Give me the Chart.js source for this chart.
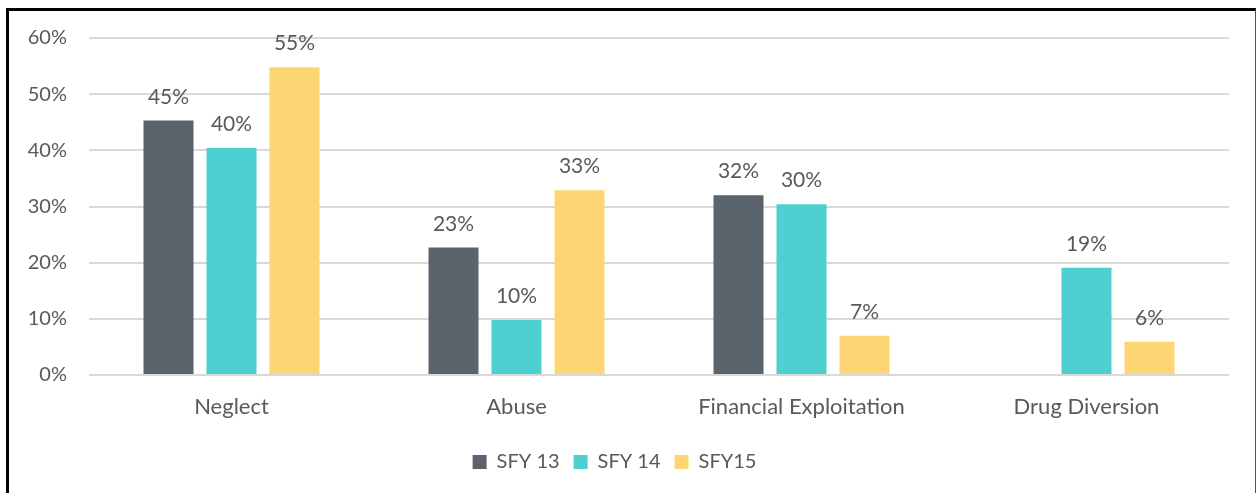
<!DOCTYPE html>
<html>
<head>
<meta charset="utf-8">
<script src="https://cdn.jsdelivr.net/npm/chart.js@4"></script>
<style>
  html, body { margin: 0; padding: 0; background: #fff; }
  #wrap { position: relative; width: 1258px; height: 493px; }
  #frame {
    position: absolute; left: 6px; top: 8px; width: 1246px; height: 490px;
    border-left: 3px solid #000; border-top: 3px solid #000; border-right: 1px solid #555;
    pointer-events: none;
  }
  canvas { position: absolute; left: 0; top: 0; }
</style>
</head>
<body>
<div id="wrap">
  <canvas id="grafico" width="1258" height="493"></canvas>
  <div id="frame"></div>
</div>
<script>
const categorias = ['Neglect', 'Abuse', 'Financial Exploitation', 'Drug Diversion'];
const sfy13 = [45.3, 22.7, 32.0, null];
const sfy14 = [40.4, 9.8, 30.4, 19.1];
const sfy15 = [54.8, 32.9, 7.0, 5.9];
const rotulos13 = ['45%', '23%', '32%', ''];
const rotulos14 = ['40%', '10%', '30%', '19%'];
const rotulos15 = ['55%', '33%', '7%', '6%'];
const yTicks = [0, 10, 20, 30, 40, 50, 60];

const corTexto = '#595959';
const fonte = 'Lato, "Open Sans", sans-serif';

const rotulosPlugin = {
  id: 'rotulos',
  afterDatasetsDraw(chart) {
    const ctx = chart.ctx;
    ctx.save();
    ctx.font = '21px ' + fonte;
    ctx.fillStyle = corTexto;
    ctx.textAlign = 'center';
    ctx.textBaseline = 'alphabetic';
    chart.data.datasets.forEach((ds, i) => {
      const meta = chart.getDatasetMeta(i);
      meta.data.forEach((bar, j) => {
        const txt = ds.rotulos[j];
        if (!txt || ds.data[j] == null) return;
        ctx.fillText(txt, bar.x, bar.y - 17);
      });
    });
    ctx.restore();
  }
};

const ctx = document.getElementById('grafico');

new Chart(ctx, {
  type: 'bar',
  data: {
    labels: categorias,
    datasets: [
      {
        label: 'SFY 13',
        data: sfy13,
        rotulos: rotulos13,
        backgroundColor: '#5B646D',
      },
      {
        label: 'SFY 14',
        data: sfy14,
        rotulos: rotulos14,
        backgroundColor: '#4ECFD0',
      },
      {
        label: 'SFY15',
        data: sfy15,
        rotulos: rotulos15,
        backgroundColor: '#FDD575',
      },
    ]
  },
  plugins: [rotulosPlugin],
  options: {
    responsive: false,
    animation: false,
    categoryPercentage: 0.663,
    barPercentage: 0.794,
    layout: {
      padding: { top: 38, right: 29, left: 0, bottom: 11 }
    },
    plugins: {
      tooltip: { enabled: false },
      legend: {
        position: 'bottom',
        labels: {
          boxWidth: 14,
          boxHeight: 14,
          padding: 14,
          color: corTexto,
          font: { family: fonte, size: 20 }
        }
      }
    },
    scales: {
      x: {
        grid: { display: false },
        border: { display: false },
        ticks: {
          color: corTexto,
          padding: 11,
          font: { family: fonte, size: 22 }
        },
        afterFit(scale) { scale.height = 63; }
      },
      y: {
        min: 0,
        max: 60,
        afterBuildTicks(scale) { scale.ticks = yTicks.map(v => ({ value: v })); },
        grid: { color: '#D9D9D9', lineWidth: 2, drawTicks: false },
        border: { display: false },
        ticks: {
          color: corTexto,
          padding: 22,
          font: { family: fonte, size: 20 },
          callback: v => v + '%'
        },
        afterFit(scale) { scale.width = 89; }
      }
    }
  }
});
</script>
</body>
</html>
